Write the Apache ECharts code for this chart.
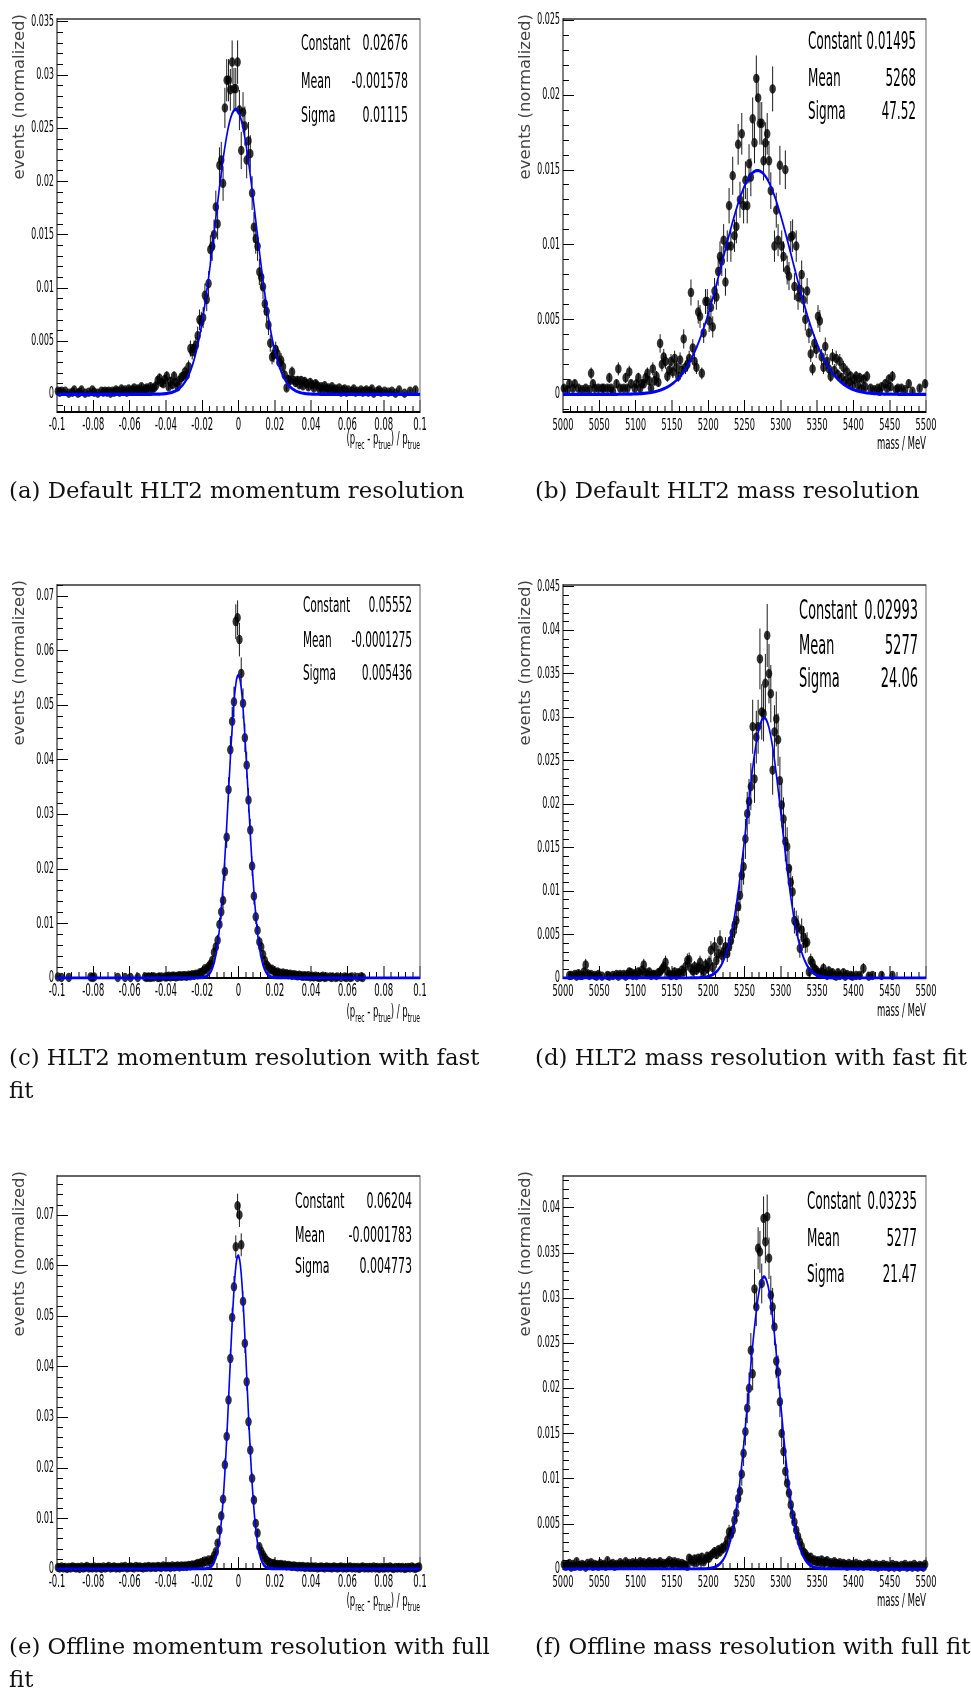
<!DOCTYPE html>
<html>
<head>
<meta charset="utf-8">
<title>HLT2 and offline resolution</title>
<script src="https://cdn.jsdelivr.net/npm/echarts@6/dist/echarts.min.js"></script>
<style>
  html, body { margin: 0; padding: 0; background: #fff; }
  #page { position: relative; width: 971px; height: 1693px; overflow: hidden; background: #fff; }
  #captions { position: absolute; left: 0; top: 0; width: 971px; height: 1693px; }
  /* the plot layer is drawn twice as wide and squeezed horizontally */
  #plots { position: absolute; left: 0; top: 0; width: 1942px; height: 1693px;
           transform: scaleX(0.5); transform-origin: 0 0; }
</style>
</head>
<body>
<div id="page">
  <div id="captions"></div>
  <div id="plots"></div>
</div>
<script>
// ---------------- binning ----------------
const MOM_LO = -0.1, MOM_BIN = 0.001;   // (p_rec - p_true)/p_true, 200 bins
const MASS_LO = 5000, MASS_BIN = 2.5;   // mass / MeV, 200 bins

// ---------------- tick labels ----------------
const momentumTicks = [-0.1, -0.08, -0.06, -0.04, -0.02, 0, 0.02, 0.04, 0.06, 0.08, 0.1];
const massTicks = [5000, 5050, 5100, 5150, 5200, 5250, 5300, 5350, 5400, 5450, 5500];
const yTicksA = [0, 0.005, 0.01, 0.015, 0.02, 0.025, 0.03, 0.035];
const yTicksB = [0, 0.005, 0.01, 0.015, 0.02, 0.025];
const yTicksC = [0, 0.01, 0.02, 0.03, 0.04, 0.05, 0.06, 0.07];
const yTicksD = [0, 0.005, 0.01, 0.015, 0.02, 0.025, 0.03, 0.035, 0.04, 0.045];
const yTicksE = [0, 0.01, 0.02, 0.03, 0.04, 0.05, 0.06, 0.07];
const yTicksF = [0, 0.005, 0.01, 0.015, 0.02, 0.025, 0.03, 0.035, 0.04];

// ---------------- Gaussian fit results: [Constant, Mean, Sigma] ----------------
const fitMomDefault  = [0.02676, -0.001578, 0.01115];
const fitMassDefault = [0.01495, 5268, 47.52];
const fitMomFast     = [0.05552, -0.0001275, 0.005436];
const fitMassFast    = [0.02993, 5277, 24.06];
const fitMomOffline  = [0.06204, -0.0001783, 0.004773];
const fitMassOffline = [0.03235, 5277, 21.47];

// effective number of entries per histogram (sets the Poisson error bars)
const entries = { a: 7500, b: 9000, c: 6500, d: 3000, e: 12500, f: 6500 };

// ---------------- normalised bin contents (null = empty bin) ----------------
const momDefault = [
  0.0003, 0.0002, 0.0003, null, 0.0003, null, 0.0001, null, 0.0002, 0.0004,
  null, 0.0001, 0.0002, 0.0004, null, 0.0001, null, 0.0002, null, 0.0004,
  0.0002, null, 0.0001, null, 0.0003, 0.0002, 0.0003, 0.0002, 0.0003, 0.0001,
  0.0003, 0.0002, 0.0004, 0.0003, 0.0002, 0.0005, 0.0003, 0.0004, 0.0002, 0.0005,
  0.0003, 0.0004, 0.0006, 0.0003, 0.0005, 0.0004, 0.0007, 0.0003, 0.0005, 0.0006,
  0.0004, 0.0007, 0.0005, 0.0006, 0.0008, 0.0013, 0.0015, 0.0011, 0.0010, 0.0014,
  0.0017, 0.0007, 0.0012, 0.0009, 0.0017, 0.0011, 0.0007, 0.0013, 0.0016, 0.0017,
  0.0021, 0.0018, 0.0026, 0.0043, 0.0040, 0.0043, 0.0046, 0.0055, 0.0070, 0.0068,
  0.0072, 0.0093, 0.0089, 0.0104, 0.0136, 0.0139, 0.0150, 0.0176, 0.0160, 0.0215,
  0.0220, 0.0198, 0.0269, 0.0295, 0.0295, 0.0286, 0.0312, 0.0287, 0.0287, 0.0312,
  0.0267, 0.0229, 0.0265, 0.0252, 0.0220, 0.0238, 0.0226, 0.0189, 0.0157, 0.0146,
  0.0139, 0.0115, 0.0110, 0.0101, 0.0085, 0.0078, 0.0065, 0.0048, 0.0035, 0.0037,
  0.0042, 0.0038, 0.0030, 0.0032, 0.0026, 0.0018, 0.0006, 0.0014, 0.0013, 0.0021,
  0.0013, 0.0011, 0.0013, 0.0009, 0.0013, 0.0008, 0.0012, 0.0010, 0.0007, 0.0011,
  0.0009, 0.0006, 0.0010, 0.0008, 0.0005, 0.0007, 0.0004, 0.0008, 0.0005, 0.0006,
  0.0003, 0.0007, 0.0004, 0.0005, 0.0003, 0.0006, 0.0002, 0.0004, 0.0005, 0.0002,
  0.0004, null, 0.0003, 0.0005, 0.0002, 0.0003, null, 0.0004, 0.0002, 0.0003,
  0.0004, 0.0002, 0.0003, 0.0005, 0.0001, null, 0.0003, 0.0004, 0.0002, null,
  0.0003, null, 0.0002, null, 0.0003, null, 0.0001, null, 0.0004, null,
  null, 0.0001, null, null, 0.0003, null, null, 0.0004, null, null
];

const massDefault = [
  0.0004, null, 0.0003, 0.0007, null, 0.0004, 0.0007, null, 0.0004, null,
  0.0003, null, 0.0004, null, 0.0003, 0.0014, 0.0007, 0.0004, null, 0.0004,
  null, 0.0004, 0.0004, null, 0.0004, 0.0011, 0.0004, 0.0002, null, 0.0007,
  0.0017, 0.0004, null, 0.0004, 0.0011, 0.0004, 0.0015, 0.0007, null, 0.0004,
  0.0007, 0.0011, 0.0004, 0.0007, 0.0007, 0.0011, 0.0014, 0.0009, 0.0004, 0.0017,
  0.0009, 0.0012, 0.0008, 0.0034, 0.0020, 0.0025, 0.0022, 0.0012, 0.0016, 0.0022,
  0.0015, 0.0024, 0.0018, 0.0012, 0.0023, 0.0016, 0.0037, 0.0018, 0.0020, 0.0024,
  0.0068, 0.0031, 0.0022, 0.0018, 0.0055, 0.0052, 0.0014, 0.0041, 0.0062, 0.0062,
  0.0049, 0.0058, 0.0045, 0.0069, 0.0065, 0.0082, 0.0092, 0.0089, 0.0103, 0.0075,
  0.0099, 0.0126, 0.0099, 0.0146, 0.0106, 0.0112, 0.0167, 0.0130, 0.0174, 0.0126,
  0.0143, 0.0126, 0.0154, 0.0145, 0.0184, 0.0168, 0.0211, 0.0198, 0.0181, 0.0181,
  0.0156, 0.0168, 0.0174, 0.0156, 0.0136, 0.0204, 0.0099, 0.0123, 0.0103, 0.0153,
  0.0099, 0.0092, 0.0150, 0.0083, 0.0079, 0.0105, 0.0106, 0.0072, 0.0099, 0.0065,
  0.0070, 0.0080, 0.0063, 0.0050, 0.0069, 0.0041, 0.0027, 0.0017, 0.0034, 0.0030,
  0.0052, 0.0049, 0.0025, 0.0018, 0.0032, 0.0022, 0.0017, 0.0012, 0.0025, 0.0016,
  0.0024, 0.0013, 0.0022, 0.0011, 0.0018, 0.0009, 0.0015, 0.0008, 0.0012, 0.0006,
  0.0010, 0.0012, 0.0006, 0.0011, 0.0004, 0.0010, 0.0005, 0.0012, null, 0.0004,
  null, 0.0003, null, 0.0004, 0.0002, 0.0005, null, 0.0007, 0.0004, 0.0010,
  0.0005, 0.0012, null, 0.0003, 0.0004, null, 0.0004, null, 0.0003, null,
  0.0007, null, 0.0002, null, null, null, 0.0004, null, null, 0.0007
];

const momFast = [
  0.0002, null, 0.0001, null, null, null, 0.0001, null, null, null,
  null, null, null, null, null, null, null, null, 0.0002, 0.0001,
  0.0002, null, null, null, null, null, null, null, null, null,
  null, null, null, 0.0001, null, null, null, 0.0001, null, null,
  0.0001, null, null, null, 0.0001, null, null, null, 0.0002, 0.0001,
  0.0002, 0.0001, 0.0002, 0.0002, null, 0.0001, 0.0001, 0.0002, null, 0.0002,
  0.0002, 0.0003, 0.0002, 0.0003, 0.0003, 0.0002, 0.0003, 0.0004, 0.0003, 0.0004,
  0.0004, 0.0003, 0.0005, 0.0004, 0.0006, 0.0005, 0.0007, 0.0006, 0.0009, 0.0010,
  0.0012, 0.0017, 0.0015, 0.0021, 0.0025, 0.0032, 0.0047, 0.0057, 0.0069, 0.0098,
  0.0121, 0.0142, 0.0195, 0.0258, 0.0345, 0.0418, 0.0470, 0.0506, 0.0653, 0.0660,
  0.0620, 0.0558, 0.0503, 0.0440, 0.0390, 0.0326, 0.0271, 0.0205, 0.0150, 0.0112,
  0.0087, 0.0066, 0.0057, 0.0043, 0.0032, 0.0024, 0.0020, 0.0015, 0.0016, 0.0012,
  0.0010, 0.0011, 0.0009, 0.0008, 0.0009, 0.0007, 0.0008, 0.0006, 0.0007, 0.0005,
  0.0006, 0.0005, 0.0004, 0.0005, 0.0004, 0.0003, 0.0004, 0.0003, 0.0004, 0.0002,
  0.0003, 0.0002, 0.0003, 0.0002, 0.0001, 0.0002, 0.0003, 0.0001, 0.0002, null,
  0.0002, 0.0001, null, 0.0001, 0.0002, null, 0.0001, null, 0.0002, 0.0001,
  null, 0.0001, 0.0002, null, null, 0.0001, null, 0.0002, 0.0001, null,
  null, null, null, null, null, null, null, null, null, null,
  null, null, null, null, null, null, null, null, null, null,
  null, null, null, null, null, null, null, null, null, null
];

const massFast = [
  null, null, null, 0.0003, 0.0003, null, 0.0004, 0.0002, 0.0005, 0.0003,
  0.0003, 0.0007, 0.0015, 0.0005, 0.0003, 0.0004, null, 0.0003, 0.0002, 0.0004,
  null, 0.0002, null, null, 0.0003, 0.0002, null, 0.0003, null, 0.0004,
  0.0002, 0.0004, null, 0.0004, 0.0002, 0.0004, 0.0007, 0.0006, 0.0003, 0.0005,
  0.0003, 0.0007, 0.0005, 0.0009, 0.0015, 0.0006, 0.0004, 0.0007, 0.0003, 0.0004,
  0.0004, 0.0003, 0.0006, 0.0007, 0.0010, 0.0013, 0.0018, 0.0008, 0.0004, 0.0003,
  0.0004, 0.0007, 0.0003, 0.0006, 0.0005, 0.0009, 0.0007, 0.0013, 0.0020, 0.0021,
  0.0011, 0.0008, 0.0013, 0.0009, 0.0012, 0.0018, 0.0010, 0.0007, 0.0015, 0.0011,
  0.0018, 0.0032, 0.0012, 0.0036, 0.0020, 0.0028, 0.0043, 0.0026, 0.0030, 0.0036,
  0.0028, 0.0036, 0.0043, 0.0052, 0.0060, 0.0066, 0.0082, 0.0095, 0.0118, 0.0128,
  0.0160, 0.0189, 0.0203, 0.0220, 0.0289, 0.0229, 0.0277, 0.0289, 0.0367, 0.0306,
  0.0304, 0.0339, 0.0394, 0.0350, 0.0327, 0.0239, 0.0283, 0.0298, 0.0274, 0.0227,
  0.0199, 0.0183, 0.0157, 0.0151, 0.0126, 0.0110, 0.0099, 0.0066, 0.0063, 0.0058,
  0.0034, 0.0055, 0.0047, 0.0040, 0.0041, 0.0007, 0.0020, 0.0017, 0.0011, 0.0009,
  0.0006, 0.0004, 0.0007, 0.0011, 0.0005, 0.0003, 0.0008, 0.0004, 0.0006, 0.0003,
  0.0002, 0.0006, 0.0003, null, 0.0006, 0.0002, 0.0004, null, 0.0003, 0.0002,
  null, 0.0003, null, 0.0003, null, 0.0011, null, null, 0.0002, null,
  0.0003, null, null, null, null, 0.0003, null, null, null, null,
  null, 0.0003, null, null, null, null, null, null, null, null,
  null, null, null, null, null, null, null, null, null, null
];

const momOffline = [
  0.0003, 0.0002, 0.0004, 0.0002, 0.0003, 0.0001, 0.0003, 0.0002, 0.0004, 0.0003,
  0.0002, 0.0003, 0.0001, 0.0004, 0.0002, 0.0003, 0.0005, 0.0002, 0.0003, 0.0002,
  0.0004, 0.0002, 0.0003, 0.0003, 0.0001, 0.0004, 0.0002, 0.0003, 0.0005, 0.0002,
  0.0003, 0.0004, 0.0002, 0.0003, 0.0002, 0.0004, 0.0003, 0.0005, 0.0002, 0.0003,
  0.0004, 0.0003, 0.0002, 0.0005, 0.0003, 0.0004, 0.0003, 0.0002, 0.0004, 0.0003,
  0.0005, 0.0003, 0.0004, 0.0004, 0.0003, 0.0005, 0.0004, 0.0003, 0.0006, 0.0004,
  0.0004, 0.0005, 0.0003, 0.0006, 0.0004, 0.0005, 0.0006, 0.0004, 0.0006, 0.0005,
  0.0006, 0.0005, 0.0007, 0.0006, 0.0008, 0.0007, 0.0009, 0.0011, 0.0010, 0.0013,
  0.0012, 0.0016, 0.0014, 0.0018, 0.0014, 0.0019, 0.0026, 0.0034, 0.0051, 0.0077,
  0.0105, 0.0138, 0.0206, 0.0262, 0.0334, 0.0416, 0.0497, 0.0558, 0.0637, 0.0718,
  0.0700, 0.0641, 0.0529, 0.0446, 0.0370, 0.0291, 0.0235, 0.0179, 0.0136, 0.0090,
  0.0071, 0.0044, 0.0035, 0.0028, 0.0022, 0.0017, 0.0014, 0.0012, 0.0010, 0.0011,
  0.0008, 0.0009, 0.0008, 0.0009, 0.0007, 0.0008, 0.0006, 0.0007, 0.0006, 0.0005,
  0.0006, 0.0005, 0.0004, 0.0005, 0.0004, 0.0005, 0.0003, 0.0004, 0.0004, 0.0003,
  0.0004, 0.0003, 0.0004, 0.0002, 0.0003, 0.0004, 0.0003, 0.0002, 0.0004, 0.0003,
  0.0003, 0.0002, 0.0004, 0.0003, 0.0002, 0.0003, 0.0004, 0.0002, 0.0003, 0.0002,
  0.0003, 0.0004, 0.0002, 0.0003, 0.0002, 0.0003, 0.0001, 0.0003, 0.0004, 0.0002,
  0.0003, 0.0002, 0.0003, 0.0002, 0.0004, 0.0002, 0.0003, 0.0001, 0.0003, 0.0002,
  0.0002, 0.0003, 0.0002, 0.0004, 0.0002, 0.0001, 0.0003, 0.0002, 0.0003, 0.0002,
  0.0003, 0.0001, 0.0002, 0.0003, 0.0002, 0.0004, 0.0002, 0.0001, 0.0003, 0.0004
];

const massOffline = [
  0.0005, 0.0003, 0.0004, 0.0006, 0.0002, 0.0005, 0.0003, 0.0008, 0.0004, 0.0003,
  0.0005, 0.0004, 0.0002, 0.0006, 0.0004, 0.0007, 0.0003, 0.0005, 0.0004, 0.0003,
  0.0006, 0.0004, 0.0005, 0.0003, 0.0009, 0.0004, 0.0005, 0.0006, 0.0003, 0.0005,
  0.0004, 0.0007, 0.0005, 0.0004, 0.0008, 0.0005, 0.0006, 0.0004, 0.0007, 0.0005,
  0.0006, 0.0004, 0.0008, 0.0005, 0.0007, 0.0004, 0.0006, 0.0008, 0.0005, 0.0006,
  0.0007, 0.0005, 0.0006, 0.0008, 0.0004, 0.0006, 0.0005, 0.0007, 0.0009, 0.0005,
  0.0006, 0.0008, 0.0005, 0.0007, 0.0004, 0.0006, 0.0005, 0.0004, 0.0003, 0.0012,
  0.0010, 0.0008, 0.0011, 0.0007, 0.0012, 0.0009, 0.0013, 0.0008, 0.0011, 0.0014,
  0.0012, 0.0015, 0.0017, 0.0019, 0.0016, 0.0021, 0.0019, 0.0023, 0.0023, 0.0026,
  0.0032, 0.0041, 0.0038, 0.0043, 0.0054, 0.0062, 0.0078, 0.0086, 0.0105, 0.0128,
  0.0152, 0.0178, 0.0200, 0.0242, 0.0216, 0.0310, 0.0290, 0.0355, 0.0351, 0.0316,
  0.0388, 0.0362, 0.0390, 0.0344, 0.0303, 0.0290, 0.0268, 0.0230, 0.0218, 0.0185,
  0.0150, 0.0130, 0.0108, 0.0095, 0.0084, 0.0071, 0.0060, 0.0052, 0.0043, 0.0036,
  0.0030, 0.0025, 0.0019, 0.0017, 0.0014, 0.0011, 0.0013, 0.0009, 0.0010, 0.0008,
  0.0009, 0.0007, 0.0010, 0.0006, 0.0008, 0.0009, 0.0006, 0.0007, 0.0005, 0.0008,
  0.0006, 0.0005, 0.0007, 0.0004, 0.0006, 0.0005, 0.0003, 0.0006, 0.0004, 0.0005,
  0.0004, 0.0006, 0.0003, 0.0005, 0.0004, 0.0003, 0.0005, 0.0004, 0.0006, 0.0003,
  0.0004, 0.0003, 0.0005, 0.0002, 0.0004, 0.0003, 0.0005, 0.0003, 0.0004, 0.0002,
  0.0003, 0.0005, 0.0002, 0.0004, 0.0003, 0.0002, 0.0004, 0.0003, 0.0005, 0.0002,
  0.0003, 0.0004, 0.0002, 0.0005, 0.0003, 0.0002, 0.0004, 0.0003, 0.0002, 0.0005
];

// ---------------- captions ----------------
const captions = {
  a: ['(a) Default HLT2 momentum resolution'],
  b: ['(b) Default HLT2 mass resolution'],
  c: ['(c) HLT2 momentum resolution with fast', 'fit'],
  d: ['(d) HLT2 mass resolution with fast fit'],
  e: ['(e) Offline momentum resolution with full', 'fit'],
  f: ['(f) Offline mass resolution with full fit']
};
const yTitle = 'events (normalized)';
const statNames = ['Constant', 'Mean', 'Sigma'];

// ---------------- page layout (page pixels) ----------------
const SX = 0.5;                       // horizontal squeeze of the plot layer
const PLOT_FONT = '"DejaVu Sans", sans-serif';
const CAPTION_FONT = '"DejaVu Serif", serif';

const panels = [
  { key: 'a', kind: 'mom',  vals: momDefault,  fit: fitMomDefault,  yTicks: yTicksA, minorStep: 0.001,
    box: [57, 19, 363, 393],   yRange: [-0.00166, 0.03525], stats: { left: 301, right: 408, rows: [44, 82, 116], size: 22 },
    xTitleY: 440, titleX: 20,  caption: [9, 492] },
  { key: 'b', kind: 'mass', vals: massDefault, fit: fitMassDefault, yTicks: yTicksB, minorStep: 0.001,
    box: [563, 19, 363, 393],  yRange: [-0.00118, 0.02507], stats: { left: 808, right: 916, rows: [43, 80, 113], size: 24 },
    xTitleY: 445, titleX: 526, caption: [535, 492] },
  { key: 'c', kind: 'mom',  vals: momFast,     fit: fitMomFast,     yTicks: yTicksC, minorStep: 0.002,
    box: [57, 585, 363, 393],  yRange: [0, 0.0720], stats: { left: 303, right: 412, rows: [607, 642, 675], size: 21 },
    xTitleY: 1013, titleX: 20, caption: [9, 1059] },
  { key: 'd', kind: 'mass', vals: massFast,    fit: fitMassFast,    yTicks: yTicksD, minorStep: 0.001,
    box: [563, 585, 363, 393], yRange: [0, 0.0452], stats: { left: 799, right: 918, rows: [612, 647, 680], size: 26 },
    xTitleY: 1012, titleX: 526, caption: [535, 1059] },
  { key: 'e', kind: 'mom',  vals: momOffline,  fit: fitMomOffline,  yTicks: yTicksE, minorStep: 0.002,
    box: [57, 1176, 363, 393], yRange: [0, 0.0777], stats: { left: 295, right: 412, rows: [1202, 1236, 1267], size: 22 },
    xTitleY: 1602, titleX: 20, caption: [9, 1648] },
  { key: 'f', kind: 'mass', vals: massOffline, fit: fitMassOffline, yTicks: yTicksF, minorStep: 0.001,
    box: [563, 1176, 363, 393], yRange: [0, 0.0435], stats: { left: 807, right: 917, rows: [1203, 1240, 1276], size: 24 },
    xTitleY: 1602, titleX: 526, caption: [535, 1648] }
];

// ---------------- helpers ----------------
function fmt(v) { return String(+(+v).toFixed(6)); }

function gauss(par, x) {
  const z = (x - par[1]) / par[2];
  return par[0] * Math.exp(-0.5 * z * z);
}

function minorValues(lo, hi, step, majors) {
  const out = [];
  const start = Math.ceil(lo / step - 1e-9);
  for (let k = start; k * step <= hi + 1e-12; k++) {
    const v = +(k * step).toFixed(6);
    if (!majors.some(m => Math.abs(m - v) < 1e-9)) out.push(v);
  }
  return out;
}

function errorBar(params, api) {
  const x = api.value(0), v = api.value(1), e = api.value(2);
  const p1 = api.coord([x, v - e]);
  const p2 = api.coord([x, v + e]);
  return {
    type: 'line',
    shape: { x1: p1[0], y1: p1[1], x2: p2[0], y2: p2[1] },
    style: { stroke: '#1a1a1a', lineWidth: 2 }
  };
}

// ---------------- plot layer ----------------
const grid = [], xAxis = [], yAxis = [], series = [], plotGraphics = [];

panels.forEach((p, k) => {
  const [L, T, W, H] = p.box;
  const isMom = p.kind === 'mom';
  const lo = isMom ? MOM_LO : MASS_LO;
  const bin = isMom ? MOM_BIN : MASS_BIN;
  const xTicks = isMom ? momentumTicks : massTicks;
  const xMin = xTicks[0], xMax = xTicks[xTicks.length - 1];

  grid.push({ left: L / SX, top: T, width: W / SX, height: H,
              show: true, borderColor: '#333', borderWidth: 1.5, backgroundColor: 'transparent' });

  const xi = xAxis.length;
  xAxis.push({
    gridIndex: k, type: 'value', min: xMin, max: xMax, interval: xTicks[1] - xTicks[0], position: 'bottom',
    axisLine: { onZero: false, lineStyle: { color: '#000', width: 2 } },
    axisTick: { inside: true, length: 12, lineStyle: { color: '#000', width: 2 } },
    minorTick: { show: true, splitNumber: 5, length: 6, lineStyle: { color: '#000', width: 2 } },
    splitLine: { show: false }, minorSplitLine: { show: false },
    axisLabel: { customValues: xTicks, formatter: fmt, fontFamily: PLOT_FONT,
                 fontSize: isMom ? 17 : 16.5, color: '#000', margin: 5 }
  });

  const yi = yAxis.length;
  yAxis.push({
    gridIndex: k, type: 'value', min: p.yRange[0], max: p.yRange[1], position: 'left',
    axisLine: { onZero: false, lineStyle: { color: '#000', width: 2 } },
    axisTick: { inside: true, length: 22, customValues: p.yTicks, lineStyle: { color: '#000', width: 1 } },
    splitLine: { show: false },
    axisLabel: { customValues: p.yTicks, formatter: fmt, fontFamily: PLOT_FONT,
                 fontSize: 16, color: '#000', margin: 6 }
  });
  // minor ticks of the y axis, drawn on the left frame edge
  yAxis.push({
    gridIndex: k, type: 'value', min: p.yRange[0], max: p.yRange[1], position: 'left', offset: 0,
    axisLine: { show: false, onZero: false },
    axisTick: { inside: true, length: 12,
                customValues: minorValues(p.yRange[0], p.yRange[1], p.minorStep, p.yTicks),
                lineStyle: { color: '#000', width: 1 } },
    axisLabel: { show: false }, splitLine: { show: false }
  });

  // histogram points with Poisson errors
  const pts = [], errs = [];
  p.vals.forEach((v, i) => {
    if (v == null) return;
    const x = lo + (i + 0.5) * bin;
    pts.push([x, v]);
    errs.push([x, v, Math.sqrt(v / entries[p.key])]);
  });

  // Gaussian fit curve over the full histogram range
  const curve = [];
  const nStep = 600;
  for (let s = 0; s <= nStep; s++) {
    const x = xMin + (xMax - xMin) * s / nStep;
    curve.push([x, gauss(p.fit, x)]);
  }

  series.push({ type: 'custom', name: 'errors ' + p.key, xAxisIndex: xi, yAxisIndex: yi,
                data: errs, encode: { x: 0, y: 1 }, renderItem: errorBar, clip: true, z: 2, silent: true });
  series.push({ type: 'scatter', name: 'data ' + p.key, xAxisIndex: xi, yAxisIndex: yi,
                data: pts, symbol: 'circle', symbolSize: [13, 9.5],
                itemStyle: { color: '#000' }, z: 3, silent: true });
  series.push({ type: 'line', name: 'fit ' + p.key, xAxisIndex: xi, yAxisIndex: yi,
                data: curve, showSymbol: false, smooth: false, clip: true,
                lineStyle: { color: '#0000ff', width: 3.2 }, z: 4, silent: true });

  // fit statistics box
  const st = p.stats;
  statNames.forEach((name, r) => {
    plotGraphics.push({ type: 'text', x: st.left / SX, y: st.rows[r], silent: true,
      style: { text: name, fontFamily: PLOT_FONT, fontSize: st.size, fill: '#000',
               align: 'left', verticalAlign: 'middle' } });
    plotGraphics.push({ type: 'text', x: st.right / SX, y: st.rows[r], silent: true,
      style: { text: String(p.fit[r]), fontFamily: PLOT_FONT, fontSize: st.size, fill: '#000',
               align: 'right', verticalAlign: 'middle' } });
  });

  // x axis title
  if (isMom) {
    plotGraphics.push({ type: 'text', x: (L + W) / SX, y: p.xTitleY, silent: true,
      style: {
        text: '{m|(p}{s|rec}{m| - p}{s|true}{m|) / p}{s|true}',
        align: 'right', verticalAlign: 'middle', fill: '#000',
        rich: {
          m: { fontFamily: PLOT_FONT, fontSize: 17, fill: '#000' },
          s: { fontFamily: PLOT_FONT, fontSize: 12, fill: '#000', padding: [12, 0, 0, 0] }
        }
      } });
  } else {
    plotGraphics.push({ type: 'text', x: (L + W) / SX, y: p.xTitleY, silent: true,
      style: { text: 'mass / MeV', fontFamily: PLOT_FONT, fontSize: 17, fill: '#000',
               align: 'right', verticalAlign: 'middle' } });
  }
});

const plots = echarts.init(document.getElementById('plots'), null, { renderer: 'canvas' });
plots.setOption({
  animation: false,
  backgroundColor: 'transparent',
  grid, xAxis, yAxis, series,
  graphic: { elements: plotGraphics }
});

// ---------------- caption layer (not squeezed) ----------------
const capGraphics = [];
panels.forEach(p => {
  // rotated y axis title
  capGraphics.push({ type: 'text', x: p.titleX, y: p.box[1] - 5, rotation: Math.PI / 2, silent: true,
    style: { text: yTitle, fontFamily: PLOT_FONT, fontSize: 16.5, fill: '#444',
             align: 'right', verticalAlign: 'middle' } });
  // sub-figure caption
  captions[p.key].forEach((line, j) => {
    capGraphics.push({ type: 'text', x: p.caption[0], y: p.caption[1] + j * 33, silent: true,
      style: { text: line, fontFamily: CAPTION_FONT, fontSize: 22.8, fill: '#111',
               align: 'left', verticalAlign: 'middle' } });
  });
});

const capChart = echarts.init(document.getElementById('captions'), null, { renderer: 'canvas' });
capChart.setOption({ animation: false, backgroundColor: '#fff', graphic: { elements: capGraphics } });
</script>
</body>
</html>
